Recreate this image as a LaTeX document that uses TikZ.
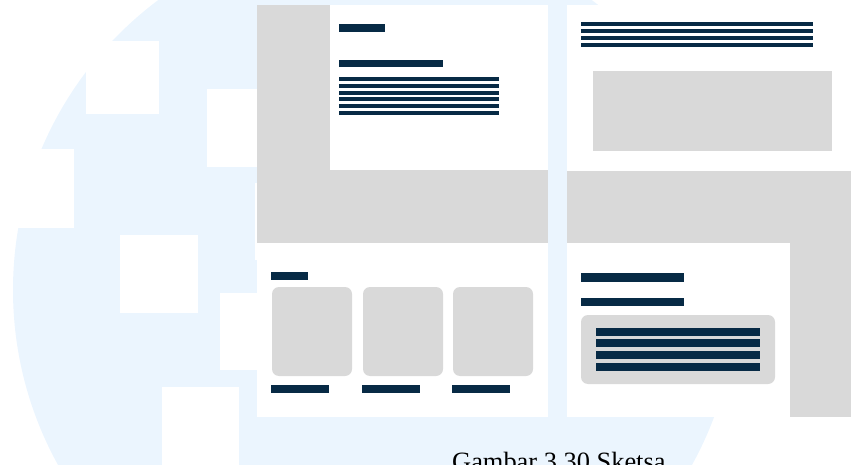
\documentclass[tikz,border=0pt]{standalone}
\usepackage{fontspec}
\setmainfont{Liberation Serif}
\usepackage{xcolor}
\usetikzlibrary{positioning}
\definecolor{navy}{HTML}{072A45}
\definecolor{wfgray}{HTML}{D9D9D9}
\definecolor{skyback}{HTML}{EBF5FE}

\begin{document}
\begin{tikzpicture}[x=1pt, y=-1pt,
  bar/.style={fill=navy},
  block/.style={fill=wfgray},
  card/.style={fill=wfgray, rounded corners=7pt},
  panel/.style={fill=white},
  hole/.style={fill=white}]
  \useasboundingbox (0,0) rectangle (851,465);
  \clip (0,0) rectangle (851,465);
  % background badge
  \fill[skyback] (375,290) circle[radius=362];
  \fill[hole] (86,41) rectangle (159,114);
  \fill[hole] (207,89) rectangle (290,167);
  \fill[hole] (0,149) rectangle (74,228);
  \fill[hole] (120,235) rectangle (198,313);
  \fill[hole] (255,183) rectangle (300,260);
  \fill[hole] (220,293) rectangle (290,370);
  \fill[hole] (162,387) rectangle (239,470);
  % top left: hero
  \fill[block] (257,5) rectangle (548,243);
  \fill[panel] (330,5) rectangle (548,170);
  \fill[bar] (339,24) rectangle (385,32);
  \fill[bar] (339,60) rectangle (443,67);
  \foreach \y in {77,83.8,90.6,97.4,104.2,111}
    \fill[bar] (339,\y) rectangle (499,\y+4);
  % top right: article
  \fill[block] (567,171) rectangle (851,417);
  \fill[panel] (567,5) rectangle (851,171);
  \foreach \y in {22,29,36,43}
    \fill[bar] (581,\y) rectangle (813,\y+4);
  \fill[block] (593,71) rectangle (832,151);
  % bottom left: cards
  \fill[panel] (257,243) rectangle (548,417);
  \fill[bar] (271,272) rectangle (308,280);
  \foreach \x in {272,363,453} {
    \fill[card] (\x,287) rectangle (\x+80,376);
    \fill[bar] (\x-1,385) rectangle (\x+57,393);
  }
  % bottom right: contact
  \fill[panel] (567,243) rectangle (790,417);
  \fill[bar] (581,273) rectangle (684,282);
  \fill[bar] (581,298) rectangle (684,306);
  \fill[card] (581,315) rectangle (775,384);
  \foreach \y in {328,339,351,363}
    \fill[bar] (596,\y) rectangle (760,\y+8);
  % caption
  \node[anchor=base west, inner sep=0pt, font=\fontsize{26.4}{30}\selectfont] (caption) at (452,470.5) {Gambar 3.30 Sketsa};
\end{tikzpicture}
\end{document}
